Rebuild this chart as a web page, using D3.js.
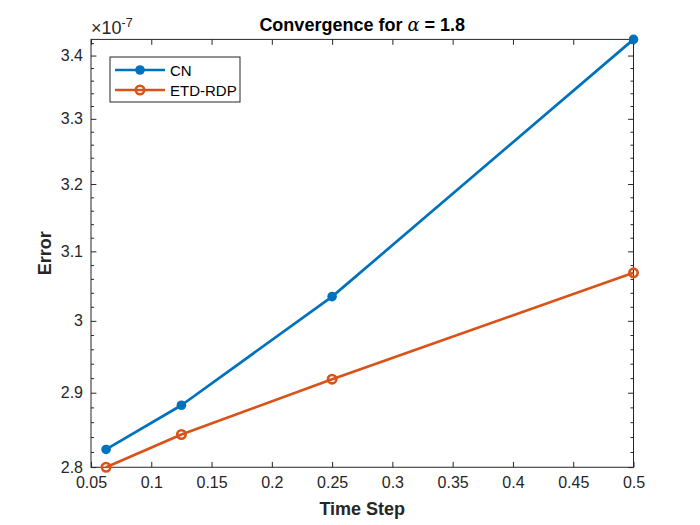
<!DOCTYPE html>
<html>
<head>
<meta charset="utf-8">
<script src="https://cdn.jsdelivr.net/npm/d3@7"></script>
<style>
  html, body { margin: 0; padding: 0; background: #fff; }
  svg { display: block; font-family: "Liberation Sans", Arial, sans-serif; }
</style>
</head>
<body>
<script>
// data (error values in units of 1e-7)
const timeSteps = [0.0625, 0.125, 0.25, 0.5];
const errCN = [2.8234, 2.8829, 3.0345, 3.4260];
const errETD = [2.7998, 2.8434, 2.9186, 3.0688];
const xTicks = [0.05, 0.1, 0.15, 0.2, 0.25, 0.3, 0.35, 0.4, 0.45, 0.5];
const yTicks = [2.8, 2.9, 3, 3.1, 3.2, 3.3, 3.4];
const seriesNames = ["CN", "ETD-RDP"];

const width = 700, height = 525;
const plotL = 91, plotR = 633.5, plotT = 39.4, plotB = 467.25;
const ink = "#262626";
const colors = ["#0072BD", "#D95319"];
const tickLen = 5.4;

const svg = d3.select("body").append("svg")
  .attr("width", width)
  .attr("height", height)
  .attr("viewBox", `0 0 ${width} ${height}`);

svg.append("rect").attr("width", width).attr("height", height).attr("fill", "#fff");

const x = d3.scaleLinear().domain([0.05, 0.5]).range([plotL, plotR]);
const y = d3.scaleLog()
  .domain(d3.extent(errCN.concat(errETD)))
  .range([plotB, plotT]);

// minor y ticks every 0.02
const [y0, y1] = y.domain();
const yMinor = d3.range(2.8, 3.44, 0.02)
  .map(v => +v.toFixed(2))
  .filter(v => v >= y0 && v <= y1 && !yTicks.includes(v));

// axes
const fmt = d3.format("~g");

const xAxis = svg.append("g")
  .attr("transform", `translate(0,${plotB})`)
  .call(d3.axisBottom(x).tickValues(xTicks).tickFormat(fmt)
    .tickSizeInner(-tickLen).tickSizeOuter(0).tickPadding(9));

const xTop = svg.append("g")
  .attr("transform", `translate(0,${plotT})`)
  .call(d3.axisTop(x).tickValues(xTicks).tickFormat("")
    .tickSizeInner(-tickLen).tickSizeOuter(0));

const yAxis = svg.append("g")
  .attr("transform", `translate(${plotL},0)`)
  .call(d3.axisLeft(y).tickValues(yTicks).tickFormat(fmt)
    .tickSizeInner(-tickLen).tickSizeOuter(0).tickPadding(8));

const yRight = svg.append("g")
  .attr("transform", `translate(${plotR},0)`)
  .call(d3.axisRight(y).tickValues(yTicks).tickFormat("")
    .tickSizeInner(-tickLen).tickSizeOuter(0));

const yMinL = svg.append("g")
  .attr("transform", `translate(${plotL},0)`)
  .call(d3.axisLeft(y).tickValues(yMinor).tickFormat("")
    .tickSizeInner(-tickLen * 0.55).tickSizeOuter(0));

const yMinR = svg.append("g")
  .attr("transform", `translate(${plotR},0)`)
  .call(d3.axisRight(y).tickValues(yMinor).tickFormat("")
    .tickSizeInner(-tickLen * 0.55).tickSizeOuter(0));

[xAxis, xTop, yAxis, yRight, yMinL, yMinR].forEach(g => {
  g.select(".domain").remove();
  g.selectAll("line").attr("stroke", ink).attr("stroke-width", 1);
  g.selectAll("text")
    .attr("fill", ink)
    .attr("font-size", "16px")
    .attr("font-family", "'Liberation Sans', Arial, sans-serif");
});

// box
svg.append("rect")
  .attr("x", plotL).attr("y", plotT)
  .attr("width", plotR - plotL).attr("height", plotB - plotT)
  .attr("fill", "none").attr("stroke", ink).attr("stroke-width", 1);

// exponent
const expo = svg.append("text")
  .attr("x", plotL).attr("y", 34)
  .attr("font-size", "18px").attr("fill", ink);
expo.append("tspan").text("\u00d710");
expo.append("tspan").attr("dy", -7).attr("font-size", "12.5px").text("-7");

// lines
const line = d3.line().x(d => x(d[0])).y(d => y(d[1]));
const series = [errCN, errETD].map(vals => timeSteps.map((t, i) => [t, vals[i]]));

series.forEach((pts, k) => {
  svg.append("path")
    .attr("d", line(pts))
    .attr("fill", "none")
    .attr("stroke", colors[k])
    .attr("stroke-width", 2.7)
    .attr("stroke-linejoin", "round");
});

svg.append("g").selectAll("circle")
  .data(series[0]).join("circle")
  .attr("cx", d => x(d[0])).attr("cy", d => y(d[1]))
  .attr("r", 4.8).attr("fill", colors[0]);

svg.append("g").selectAll("circle")
  .data(series[1]).join("circle")
  .attr("cx", d => x(d[0])).attr("cy", d => y(d[1]))
  .attr("r", 4.2).attr("fill", "none")
  .attr("stroke", colors[1]).attr("stroke-width", 2.6);

// title and labels
const title = svg.append("text")
  .attr("x", (plotL + plotR) / 2).attr("y", 31)
  .attr("text-anchor", "middle")
  .attr("font-size", "18px").attr("font-weight", "bold").attr("fill", "#000");
title.append("tspan").text("Convergence for ");
title.append("tspan").attr("font-style", "italic").attr("font-family", "'DejaVu Serif', serif").attr("font-weight", "normal").text("\u03b1");
title.append("tspan").text(" = 1.8");

svg.append("text")
  .attr("x", (plotL + plotR) / 2).attr("y", 515)
  .attr("text-anchor", "middle")
  .attr("font-size", "18px").attr("font-weight", "bold").attr("fill", ink)
  .text("Time Step");

svg.append("text")
  .attr("transform", `translate(51,${(plotT + plotB) / 2}) rotate(-90)`)
  .attr("text-anchor", "middle")
  .attr("font-size", "18px").attr("font-weight", "bold").attr("fill", ink)
  .text("Error");

// legend
const lg = svg.append("g").attr("transform", "translate(110,57)");
lg.append("rect")
  .attr("width", 130).attr("height", 45)
  .attr("fill", "#fff").attr("stroke", ink).attr("stroke-width", 1);

seriesNames.forEach((name, k) => {
  const ly = 13 + k * 20;
  lg.append("line")
    .attr("x1", 5).attr("x2", 55).attr("y1", ly).attr("y2", ly)
    .attr("stroke", colors[k]).attr("stroke-width", 2.7);
  if (k === 0) {
    lg.append("circle").attr("cx", 30).attr("cy", ly).attr("r", 4.8).attr("fill", colors[k]);
  } else {
    lg.append("circle").attr("cx", 30).attr("cy", ly).attr("r", 4.2)
      .attr("fill", "none").attr("stroke", colors[k]).attr("stroke-width", 2.6);
  }
  lg.append("text")
    .attr("x", 60).attr("y", ly + 5.5)
    .attr("font-size", "15px").attr("fill", "#000")
    .text(name);
});
</script>
</body>
</html>
